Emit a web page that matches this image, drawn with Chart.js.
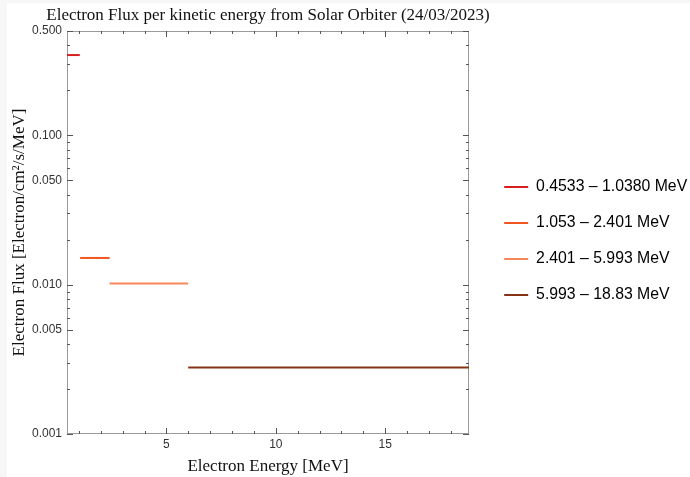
<!DOCTYPE html>
<html>
<head>
<meta charset="utf-8">
<script src="https://cdn.jsdelivr.net/npm/chart.js@4/dist/chart.umd.min.js"></script>
<style>
  html, body { margin: 0; padding: 0; background: #f7f7f7; }
  #wrap { position: absolute; left: 7px; top: 3px; width: 683px; height: 474px; background: #fff; }
  canvas { display: block; }
</style>
</head>
<body>
<div id="wrap"><canvas id="fluxChart" width="683" height="474"></canvas></div>
<script>
// Energy bins (MeV) and measured flux per bin
const binLow = [0.4533, 1.053, 2.401, 5.993];
const binHigh = [1.038, 2.401, 5.993, 18.83];
const fluxValues = [0.345, 0.0151, 0.0102, 0.00279];
const binLabels = ["0.4533 – 1.0380 MeV", "1.053 – 2.401 MeV", "2.401 – 5.993 MeV", "5.993 – 18.83 MeV"];
const binColors = ["#d71f1f", "#f2551f", "#f8875c", "#843415"];

// Axis ticks
const xMajorTicks = [5, 10, 15];
const xMinorTicks = [1, 2, 3, 4, 6, 7, 8, 9, 11, 12, 13, 14, 16, 17, 18];
const yMajorTicks = [0.001, 0.005, 0.01, 0.05, 0.1, 0.5];
const yMinorTicks = [0.002, 0.003, 0.004, 0.006, 0.007, 0.008, 0.009,
                     0.02, 0.03, 0.04, 0.06, 0.07, 0.08, 0.09, 0.2, 0.3, 0.4];

const serif = "'Liberation Serif', 'Times New Roman', serif";
const sans = "'Liberation Sans', Arial, sans-serif";

// Each bin is a flat segment across its energy range
const datasets = binLabels.map((label, i) => ({
    label: label,
    data: [{ x: binLow[i], y: fluxValues[i] }, { x: binHigh[i], y: fluxValues[i] }],
    borderColor: binColors[i],
    backgroundColor: binColors[i],
    borderWidth: 2,
    pointRadius: 0,
    fill: false,
}));

// Mathematica-style frame with inward ticks on all four sides
const framePlugin = {
    id: "frame",
    beforeDatasetsDraw(chart) {
        const { ctx, chartArea: a, scales: { x, y } } = chart;
        ctx.save();
        ctx.strokeStyle = "#9a9a9a";
        ctx.lineWidth = 1;
        ctx.strokeRect(a.left + 0.5, a.top + 0.5, a.right - a.left - 1, a.bottom - a.top - 1);

        ctx.strokeStyle = "#555";
        ctx.beginPath();
        const xTick = (v, len) => {
            const px = Math.round(x.getPixelForValue(v)) + 0.5;
            ctx.moveTo(px, a.bottom); ctx.lineTo(px, a.bottom - len);
            ctx.moveTo(px, a.top); ctx.lineTo(px, a.top + len);
        };
        const yTick = (v, len) => {
            const py = Math.round(y.getPixelForValue(v)) + 0.5;
            ctx.moveTo(a.left, py); ctx.lineTo(a.left + len, py);
            ctx.moveTo(a.right, py); ctx.lineTo(a.right - len, py);
        };
        xMajorTicks.forEach(v => xTick(v, 6));
        xMinorTicks.forEach(v => xTick(v, 3));
        yMajorTicks.forEach(v => yTick(v, 6));
        yMinorTicks.forEach(v => yTick(v, 3));
        ctx.stroke();
        ctx.restore();
    },
    afterLayout(chart) {
        const area = chart.chartArea;
        // legend column sits a little right of the plot, running to the canvas edge
        const lg = chart.legend;
        lg.left = area.right + 15;
        lg.right = chart.width;
        lg.width = lg.right - lg.left;
        lg.top += 1;
        lg.bottom += 1;
        // let the title run wider than the plot while staying centred on it
        const tb = chart.titleBlock;
        tb.left -= 70;
        tb.right += 70;
        tb.width = tb.right - tb.left;
    },
};

new Chart(document.getElementById("fluxChart"), {
    type: "line",
    data: { datasets: datasets },
    plugins: [framePlugin],
    options: {
        responsive: false,
        animation: false,
        layout: { padding: { right: 71 } },
        plugins: {
            title: {
                display: true,
                text: "Electron Flux per kinetic energy from Solar Orbiter (24/03/2023)",
                fullSize: false,
                color: "#111",
                font: { family: serif, size: 17, weight: "normal" },
                padding: { top: 2, bottom: 5.6 },
            },
            legend: {
                position: "right",
                maxWidth: 150,
                labels: {
                    boxWidth: 24,
                    boxHeight: 2,
                    padding: 20.2,
                    color: "#222",
                    font: { family: sans, size: 15.8 },
                    generateLabels(chart) {
                        return chart.data.datasets.map((ds, i) => ({
                            text: ds.label,
                            fillStyle: ds.borderColor,
                            strokeStyle: ds.borderColor,
                            lineWidth: 0,
                            datasetIndex: i,
                        }));
                    },
                },
            },
            tooltip: { enabled: false },
        },
        scales: {
            x: {
                type: "linear",
                min: binLow[0],
                max: binHigh[3],
                grid: { display: false, drawTicks: false },
                border: { display: false },
                afterBuildTicks(scale) {
                    scale.ticks = xMajorTicks.map(v => ({ value: v }));
                },
                ticks: {
                    autoSkip: false,
                    maxRotation: 0,
                    padding: 3,
                    color: "#333",
                    font: { family: sans, size: 12 },
                    callback: v => String(v),
                },
                title: {
                    display: true,
                    text: "Electron Energy [MeV]",
                    color: "#111",
                    font: { family: serif, size: 17 },
                    padding: { top: 5, bottom: 0 },
                },
                afterFit(scale) { scale.height = 43; },
            },
            y: {
                type: "logarithmic",
                min: 0.001,
                max: 0.5,
                grid: { display: false, drawTicks: false },
                border: { display: false },
                afterBuildTicks(scale) {
                    scale.ticks = yMajorTicks.map(v => ({ value: v }));
                },
                ticks: {
                    autoSkip: false,
                    padding: 5,
                    color: "#333",
                    font: { family: sans, size: 12 },
                    callback: v => Number(v).toFixed(3),
                },
                title: {
                    display: true,
                    text: "Electron Flux [Electron/cm²/s/MeV]",
                    color: "#111",
                    font: { family: serif, size: 17 },
                    padding: { top: 2, bottom: 0 },
                },
                afterFit(scale) { scale.width = 60; },
            },
        },
    },
});
</script>
</body>
</html>
